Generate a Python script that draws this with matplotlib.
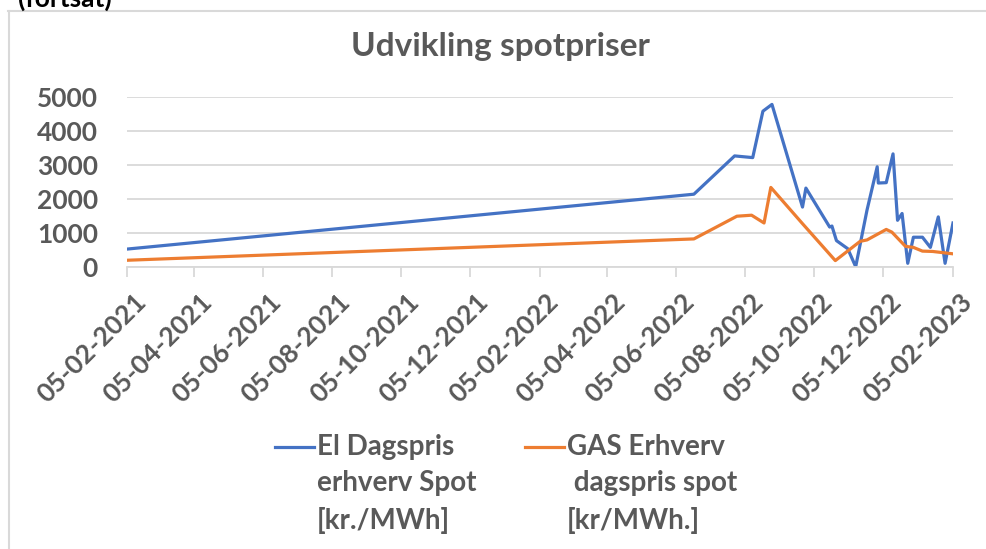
import matplotlib

matplotlib.use("Agg")
import matplotlib.pyplot as plt
import matplotlib.dates as mdates
import matplotlib.transforms as mtransforms
import numpy as np
from matplotlib.lines import Line2D

plt.rcParams["font.family"] = ["Lato", "DejaVu Sans"]

# El Dagspris erhverv Spot [kr./MWh]
el_dates = ["2021-02-05", "2022-06-21", "2022-07-27", "2022-08-12", "2022-08-21",
            "2022-08-29", "2022-09-25", "2022-09-28", "2022-10-19", "2022-10-21",
            "2022-10-25", "2022-11-04", "2022-11-11", "2022-11-21", "2022-11-30",
            "2022-12-01", "2022-12-08", "2022-12-14", "2022-12-18", "2022-12-22",
            "2022-12-27", "2023-01-01", "2023-01-09", "2023-01-16", "2023-01-23",
            "2023-01-29", "2023-02-05"]
el_vals = [520, 2140, 3270, 3220, 4590, 4790, 1760, 2320, 1170, 1200,
           770, 530, 0, 1670, 2950, 2470, 2480, 3330, 1370, 1570,
           100, 870, 870, 570, 1470, 100, 1290]

# GAS Erhverv dagspris spot [kr/MWh.]
gas_dates = ["2021-02-05", "2022-06-21", "2022-07-29", "2022-08-11", "2022-08-22",
             "2022-08-28", "2022-09-25", "2022-10-24", "2022-11-15", "2022-11-21",
             "2022-12-08", "2022-12-13", "2022-12-25", "2023-01-01", "2023-01-09",
             "2023-01-18", "2023-02-05"]
gas_vals = [190, 820, 1490, 1520, 1290, 2340, 1270, 180, 750, 790,
            1100, 1020, 600, 570, 460, 450, 380]

el_label = "El Dagspris\nerhverv Spot\n[kr./MWh]"
gas_label = "GAS Erhverv\n dagspris spot\n[kr/MWh.]"

BLUE = "#4472C4"
ORANGE = "#ED7D31"
GREY = "#595959"
GRID = "#D9D9D9"
W, H = 986, 549
FS = 19

fig = plt.figure(figsize=(9.86, 5.49), dpi=100)
ax = fig.add_axes([127 / W, 1 - 266.7 / H, (953 - 127) / W, (266.7 - 97.3) / H])

ax.plot(np.array(el_dates, dtype="datetime64[D]"), el_vals, color=BLUE, lw=2.3,
        solid_joinstyle="round")
ax.plot(np.array(gas_dates, dtype="datetime64[D]"), gas_vals, color=ORANGE, lw=2.3,
        solid_joinstyle="round")

ax.set_xlim(np.datetime64("2021-02-05"), np.datetime64("2023-02-05"))
ax.set_ylim(0, 5000)
ax.set_yticks(range(0, 5001, 1000))
ax.xaxis.set_major_locator(mdates.MonthLocator(bymonth=range(2, 13, 2), bymonthday=5))
ax.xaxis.set_major_formatter(mdates.DateFormatter("%d-%m-%Y"))

for s in ["top", "right", "left"]:
    ax.spines[s].set_visible(False)
ax.spines["bottom"].set_color(GRID)
ax.spines["bottom"].set_linewidth(1.3)
ax.grid(True, axis="y", color=GRID, lw=1.3)
ax.set_axisbelow(True)
ax.tick_params(axis="y", length=0, pad=21, labelsize=FS, labelcolor=GREY)
ax.tick_params(axis="x", length=7, width=1.3, color=GRID, direction="out",
               pad=6, labelsize=FS, labelcolor=GREY)
shift = mtransforms.ScaledTranslation(4.5 / 72, -3.5 / 72, fig.dpi_scale_trans)
for lab in ax.get_yticklabels() + ax.get_xticklabels():
    lab.set_fontweight("bold")
for lab in ax.get_xticklabels():
    lab.set_rotation(45)
    lab.set_ha("right")
    lab.set_rotation_mode("anchor")
    lab.set_transform(lab.get_transform() + shift)

fig.text(500 / W, 1 - 47 / H, "Udvikling spotpriser", ha="center", va="center",
         fontsize=24, fontweight="bold", color=GREY)
fig.text(18 / W, 1 - 7 / H, "(fortsat)", ha="left", va="baseline",
         fontsize=19, fontweight="bold", color="black")

# chart border (only top and left edges visible)
fig.add_artist(Line2D([8 / W, 1], [1 - 11 / H] * 2, color=GRID, lw=1.5,
                      transform=fig.transFigure))
fig.add_artist(Line2D([9 / W] * 2, [1 - 11 / H, 0], color=GRID, lw=1.5,
                      transform=fig.transFigure))

# legend
for x0, col, lab in [(275, BLUE, el_label), (525, ORANGE, gas_label)]:
    fig.add_artist(Line2D([x0 / W, (x0 + 39) / W], [1 - 447 / H] * 2, color=col,
                          lw=2.3, transform=fig.transFigure))
    fig.text((x0 + 42) / W, 1 - 434 / H, lab, ha="left", va="top", fontsize=20,
             fontweight="bold", color=GREY, linespacing=1.5)

fig.savefig("out.png", dpi=100)
